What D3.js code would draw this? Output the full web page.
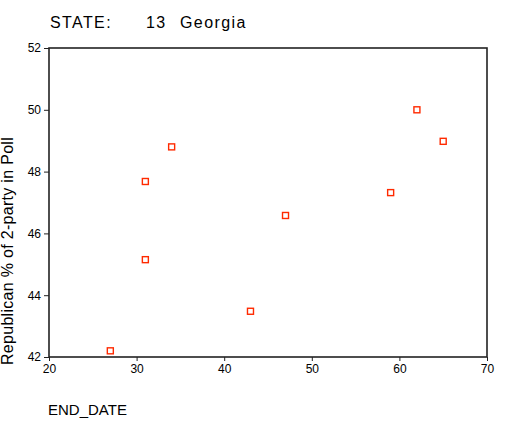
<!DOCTYPE html>
<html>
<head>
<meta charset="utf-8">
<script src="https://cdn.jsdelivr.net/npm/d3@7"></script>
<style>
  body { margin: 0; background: #fff; }
  text { font-family: "Liberation Sans", Arial, sans-serif; fill: #000; }
</style>
</head>
<body>
<div id="main-container"></div>
<script>
// Poll data, Georgia
const END_DATES = [27, 31, 31, 34, 43, 47, 59, 62, 65];
const REP_SHARE = [42.2, 45.15, 47.68, 48.8, 43.48, 46.58, 47.32, 50.0, 48.98];
const X_TICKS = [20, 30, 40, 50, 60, 70];
const Y_TICKS = [42, 44, 46, 48, 50, 52];
const TITLE_PARTS = ['STATE:', '13', 'Georgia'];

const WIDTH = 522;
const HEIGHT = 434;
const PLOT = { left: 49, right: 487, top: 48, bottom: 357 };

const SVG = d3.select('#main-container').append('svg')
    .attr('width', WIDTH)
    .attr('height', HEIGHT);

const X = d3.scaleLinear().domain([20, 70]).range([PLOT.left, PLOT.right]);
const Y = d3.scaleLinear().domain([42, 52]).range([PLOT.bottom, PLOT.top]);

// Title
const TITLE_X = [50, 146, 180];
SVG.append('g')
    .selectAll('text')
    .data(TITLE_PARTS)
    .join('text')
    .attr('x', (d, i) => TITLE_X[i])
    .attr('y', 28)
    .style('font-size', '16px')
    .style('letter-spacing', '1.4px')
    .text(d => d);

// Axes
const xAxis = SVG.append('g')
    .attr('transform', `translate(0, ${PLOT.bottom})`)
    .call(d3.axisBottom(X).tickValues(X_TICKS).tickSize(4).tickPadding(3));

const yAxis = SVG.append('g')
    .attr('transform', `translate(${PLOT.left}, 0)`)
    .call(d3.axisLeft(Y).tickValues(Y_TICKS).tickSize(5).tickPadding(3));

[xAxis, yAxis].forEach(ax => {
    ax.select('.domain').remove();
    ax.selectAll('line').attr('stroke', '#222').attr('stroke-width', 1);
    ax.selectAll('text')
        .style('font-family', '"Liberation Sans", Arial, sans-serif')
        .style('font-size', '12px')
        .attr('fill', '#000');
});

// Frame
SVG.append('rect')
    .attr('x', PLOT.left)
    .attr('y', PLOT.top)
    .attr('width', PLOT.right - PLOT.left)
    .attr('height', PLOT.bottom - PLOT.top)
    .attr('fill', 'none')
    .attr('stroke', '#222')
    .attr('stroke-width', 1.6);

// Points
const MARK = 6;
SVG.append('g')
    .selectAll('rect')
    .data(END_DATES.map((d, i) => ({ x: d, y: REP_SHARE[i] })))
    .join('rect')
    .attr('x', d => X(d.x) - MARK / 2)
    .attr('y', d => Y(d.y) - MARK / 2)
    .attr('width', MARK)
    .attr('height', MARK)
    .attr('fill', '#fff')
    .attr('stroke', '#ff2a00')
    .attr('stroke-width', 1.4);

// Axis titles
SVG.append('text')
    .attr('x', 48)
    .attr('y', 415)
    .style('font-size', '15px')
    .text('END_DATE');

SVG.append('text')
    .attr('transform', 'translate(13, 251) rotate(-90)')
    .attr('text-anchor', 'middle')
    .style('font-size', '16px')
    .style('letter-spacing', '0.3px')
    .text('Republican % of 2-party in Poll');
</script>
</body>
</html>
